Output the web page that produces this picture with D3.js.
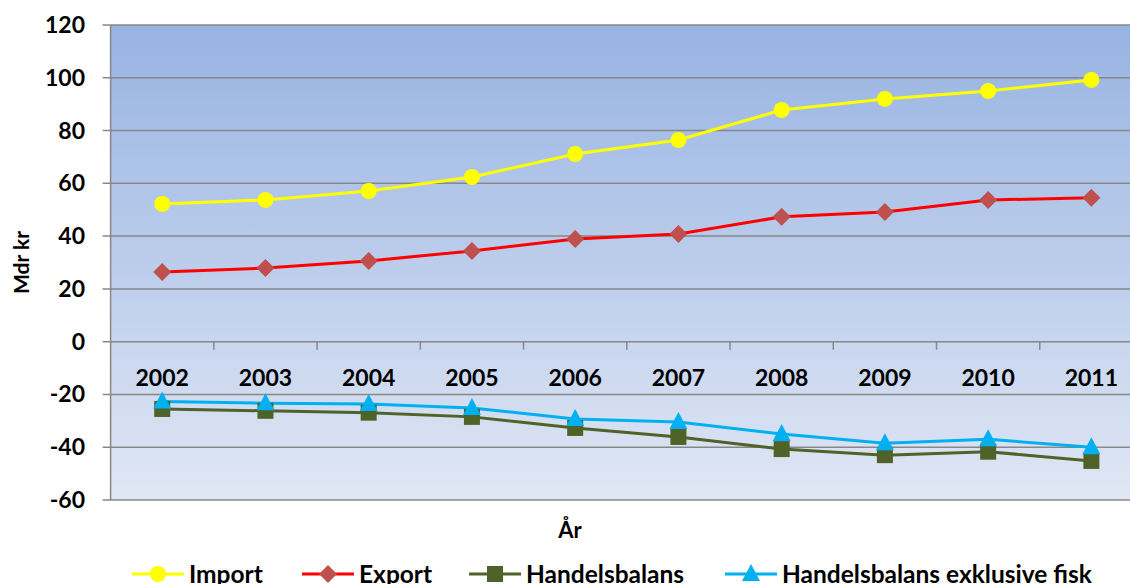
<!DOCTYPE html>
<html>
<head>
<meta charset="utf-8">
<script src="https://cdn.jsdelivr.net/npm/d3@7"></script>
<style>
  body { margin: 0; background: #fff; }
  svg text { font-family: Lato, "Open Sans", sans-serif; font-weight: bold; fill: #000; }
</style>
</head>
<body>
<div id="chart"></div>
<script>
// handelsdata, mdr kr
var years = ["2002","2003","2004","2005","2006","2007","2008","2009","2010","2011"];
var importVals = [52.2, 53.7, 57.1, 62.4, 71.1, 76.4, 87.8, 92.0, 95.0, 99.2];
var exportVals = [26.4, 27.9, 30.6, 34.4, 38.9, 40.8, 47.3, 49.1, 53.7, 54.5];
var balansVals = [-25.5, -26.2, -26.9, -28.5, -32.7, -36.1, -40.7, -43.0, -41.7, -45.2];
var exklFiskVals = [-22.7, -23.3, -23.6, -25.1, -29.3, -30.4, -35.0, -38.5, -37.0, -40.0];
var yTicks = [-60, -40, -20, 0, 20, 40, 60, 80, 100, 120];
var seriesNames = ["Import", "Export", "Handelsbalans", "Handelsbalans exklusive fisk"];

var w_width = 1130, w_height = 584;
var plotLeft = 110.6, plotRight = 1143, plotTop = 25, plotBottom = 500;

var series = [
  {name: seriesNames[0], vals: importVals, line: "#ffff00", fill: "#ffff00", shape: "circle"},
  {name: seriesNames[1], vals: exportVals, line: "#ff0000", fill: "#c0504d", shape: "diamond"},
  {name: seriesNames[2], vals: balansVals, line: "#4f6228", fill: "#4f6228", shape: "square"},
  {name: seriesNames[3], vals: exklFiskVals, line: "#00b0f0", fill: "#00b0f0", shape: "triangle"}
];

var svg = d3.select("#chart").append("svg")
  .attr("width", w_width)
  .attr("height", w_height);

var defs = svg.append("defs");
var grad = defs.append("linearGradient").attr("id", "bg")
  .attr("x1", 0).attr("y1", 0).attr("x2", 0).attr("y2", 1);
grad.append("stop").attr("offset", "0%").attr("stop-color", "#97b3e2");
grad.append("stop").attr("offset", "100%").attr("stop-color", "#e0e7f4");

var x = d3.scaleBand().domain(years).range([plotLeft, plotRight]);
var y = d3.scaleLinear().domain([-60, 120]).range([plotBottom, plotTop]);

svg.append("rect")
  .attr("x", plotLeft).attr("y", plotTop)
  .attr("width", plotRight - plotLeft).attr("height", plotBottom - plotTop)
  .attr("fill", "url(#bg)");

// gridlines + y ticks
svg.append("g").selectAll("line")
  .data(yTicks).enter().append("line")
  .attr("x1", plotLeft - 8).attr("x2", plotRight)
  .attr("y1", d => y(d)).attr("y2", d => y(d))
  .attr("stroke", "#878787").attr("stroke-width", 1.5);

svg.append("line")
  .attr("x1", plotLeft).attr("x2", plotLeft)
  .attr("y1", plotTop).attr("y2", plotBottom)
  .attr("stroke", "#878787").attr("stroke-width", 1.5);

svg.append("g").selectAll("text")
  .data(yTicks).enter().append("text")
  .attr("x", 85).attr("y", d => y(d))
  .attr("dy", "0.35em")
  .attr("text-anchor", "end")
  .style("font-size", "23px")
  .text(d => d);

// category ticks on zero line
var bounds = years.slice(1).map(d => x(d));
svg.append("g").selectAll("line")
  .data(bounds).enter().append("line")
  .attr("x1", d => d).attr("x2", d => d)
  .attr("y1", y(0)).attr("y2", y(0) + 8)
  .attr("stroke", "#878787").attr("stroke-width", 1.5);

svg.append("g").selectAll("text")
  .data(years).enter().append("text")
  .attr("x", d => x(d) + x.bandwidth() / 2)
  .attr("y", y(0) + 44)
  .attr("text-anchor", "middle")
  .style("font-size", "23px")
  .text(d => d);

// axis titles
svg.append("text")
  .attr("transform", "translate(29," + (plotTop + plotBottom) / 2 + ") rotate(-90)")
  .attr("text-anchor", "middle")
  .style("font-size", "21px")
  .text("Mdr kr");

svg.append("text")
  .attr("x", 570).attr("y", 538)
  .attr("text-anchor", "middle")
  .style("font-size", "22px")
  .text("År");

function drawMarker(g, shape, fill) {
  if (shape == "circle") {
    g.append("circle").attr("r", 8).attr("fill", fill);
  }
  if (shape == "diamond") {
    g.append("path").attr("d", "M0,-9L9,0L0,9L-9,0Z").attr("fill", fill);
  }
  if (shape == "square") {
    g.append("rect").attr("x", -8).attr("y", -8).attr("width", 16).attr("height", 16).attr("fill", fill);
  }
  if (shape == "triangle") {
    g.append("path").attr("d", "M0,-10L9,7L-9,7Z").attr("fill", fill);
  }
}

var line = d3.line()
  .x((d, i) => x(years[i]) + x.bandwidth() / 2)
  .y(d => y(d));

series.forEach(function(s) {
  svg.append("path")
    .datum(s.vals)
    .attr("fill", "none")
    .attr("stroke", s.line)
    .attr("stroke-width", 3)
    .attr("d", line);
});

series.forEach(function(s) {
  s.vals.forEach(function(v, i) {
    var g = svg.append("g")
      .attr("transform", "translate(" + (x(years[i]) + x.bandwidth() / 2) + "," + y(v) + ")");
    drawMarker(g, s.shape, s.fill);
  });
});

// legend
var legX = [132, 302, 469, 725];
var legY = 574;
series.forEach(function(s, i) {
  var g = svg.append("g").attr("transform", "translate(" + legX[i] + "," + legY + ")");
  g.append("line").attr("x1", 0).attr("x2", 52).attr("y1", 0).attr("y2", 0)
    .attr("stroke", s.line).attr("stroke-width", 3);
  var m = g.append("g").attr("transform", "translate(26,0)");
  drawMarker(m, s.shape, s.fill);
  g.append("text").attr("x", 57).attr("y", 0).attr("dy", "0.38em")
    .style("font-size", "24.5px")
    .text(s.name);
});
</script>
</body>
</html>
